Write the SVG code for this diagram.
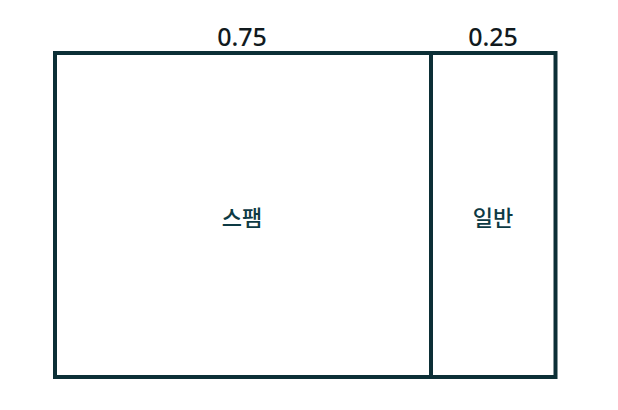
<svg xmlns="http://www.w3.org/2000/svg" width="618" height="410" viewBox="0 0 618 410">
<style>
.box{fill:#ffffff;stroke:#0c2f36;stroke-width:4}
.num{font-family:"Noto Sans","Open Sans",sans-serif;font-size:25px;font-weight:500;fill:#111a1e;text-anchor:middle}
.lbl{font-family:"Noto Sans CJK KR","Noto Sans",sans-serif;font-size:22px;font-weight:500;fill:#0d3a44;text-anchor:middle}
</style>
<rect width="618" height="410" fill="#ffffff"/>
<g id="spam">
<rect class="box" x="55" y="53" width="376" height="324"/>
<text class="lbl" x="242" y="226">스팸</text>
<text class="num" x="242" y="46">0.75</text>
</g>
<g id="normal">
<rect class="box" x="431" y="53" width="124.5" height="324"/>
<text class="lbl" x="493" y="226">일반</text>
<text class="num" x="493" y="46">0.25</text>
</g>
<g id="connectors"/>
</svg>
